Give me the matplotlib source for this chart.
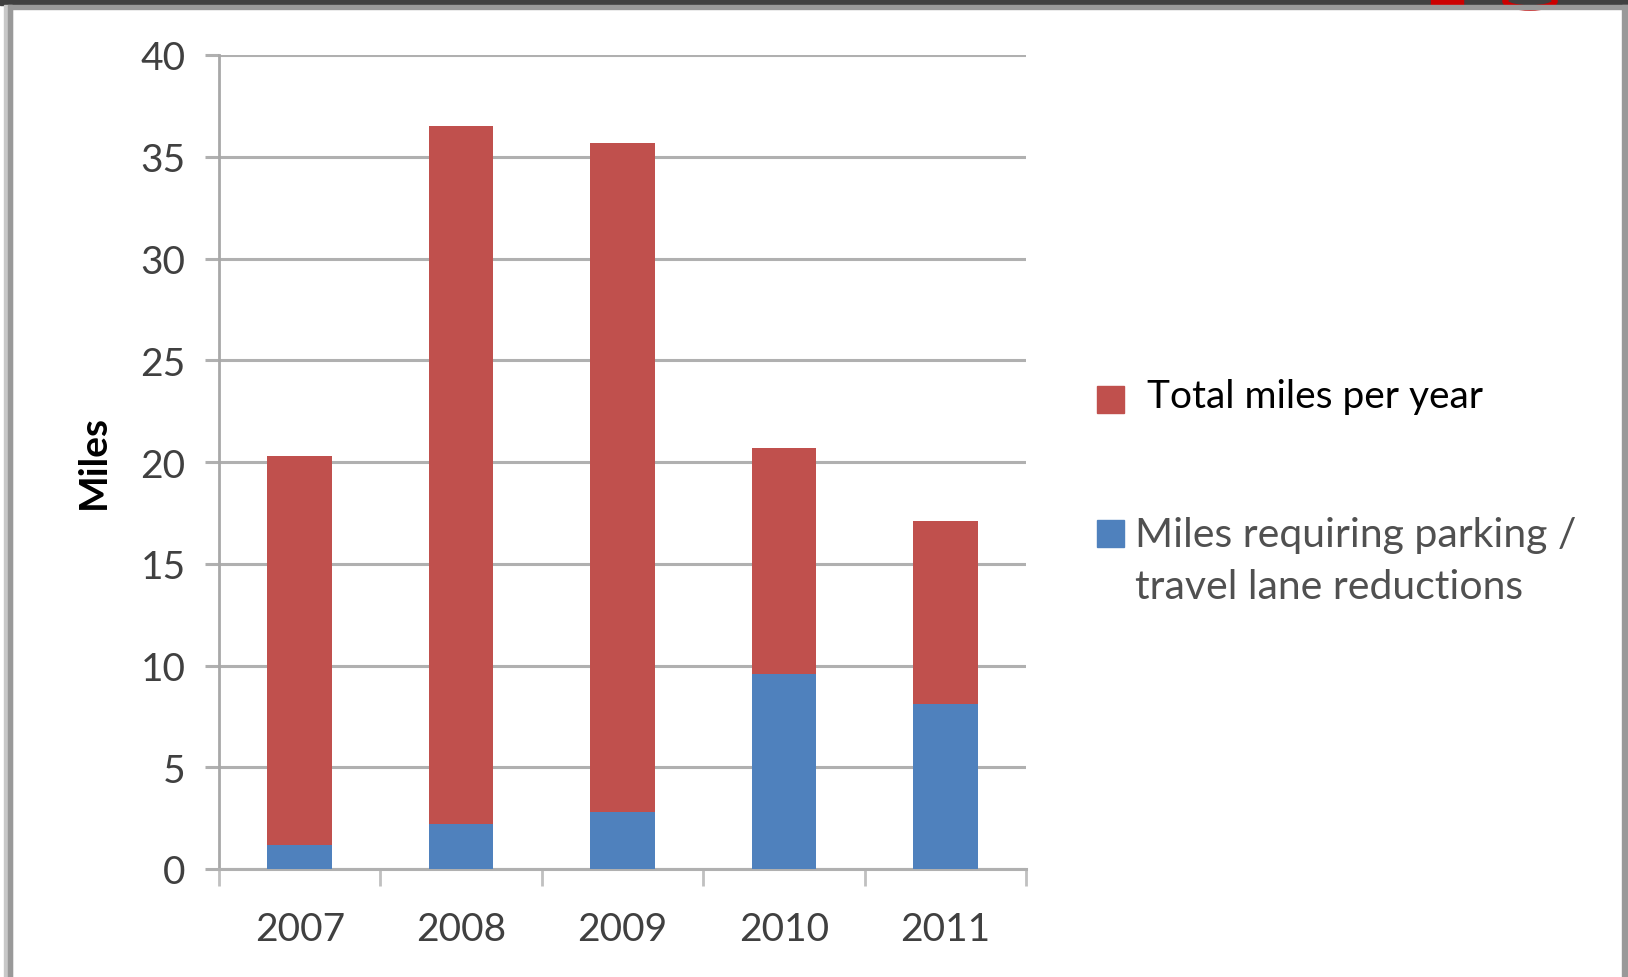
import matplotlib
matplotlib.use("Agg")
from matplotlib import pyplot as plt
from matplotlib.patches import Rectangle, Ellipse

# data
years = ["2007", "2008", "2009", "2010", "2011"]
total_miles = [20.3, 36.5, 35.7, 20.7, 17.1]
reduction_miles = [1.2, 2.2, 2.8, 9.6, 8.1]

red = "#C0504D"
blue = "#4F81BD"
grid = "#b0b0b0"

plt.rcParams['font.family'] = ['Lato', 'DejaVu Sans']

W, H = 1628, 978
fig = plt.figure(figsize=(W / 100, H / 100), dpi=100)

# slide frame around the chart
fig.patches.append(Rectangle((0, 1 - 6 / H), 1, 6 / H, transform=fig.transFigure,
                             color="#404040", zorder=0))
fig.patches.append(Rectangle((1431 / W, 1 - 6 / H), 32 / W, 6 / H, transform=fig.transFigure,
                             color="#cc0000", zorder=1))
fig.patches.append(Ellipse((1530 / W, 1 - 2 / H), 50 / W, 14 / H, transform=fig.transFigure,
                           fill=False, edgecolor="#cc0000", linewidth=4, zorder=1))
fig.patches.append(Rectangle((4 / W, 0), 8 / W, 1 - 6 / H, transform=fig.transFigure,
                             color="#c8c8c8", zorder=0))
fig.patches.append(Rectangle((8 / W, 0), 4 / W, 1 - 10 / H, transform=fig.transFigure,
                             color="#999999", zorder=0))
fig.patches.append(Rectangle((8 / W, 1 - 10 / H), 1 - 8 / W, 4 / H, transform=fig.transFigure,
                             color="#999999", zorder=2))
fig.patches.append(Rectangle((1 - 6 / W, 0), 6 / W, 1 - 6 / H, transform=fig.transFigure,
                             color="#999999", zorder=0))

ax = fig.add_axes([219 / W, (H - 870) / H, (1026 - 219) / W, (870 - 56) / H])

x = range(len(years))
ax.bar(x, total_miles, width=0.4, color=red, zorder=2)
ax.bar(x, reduction_miles, width=0.4, color=blue, zorder=3)

ax.set_xlim(-0.5, 4.5)
ax.set_ylim(0, 40)
ax.set_yticks(range(0, 41, 5))
ax.yaxis.grid(True, color=grid, linewidth=2.2, zorder=1)
ax.set_axisbelow(True)

for s in ["top", "right"]:
    ax.spines[s].set_visible(False)
ax.spines["left"].set_color("#a8a8a8")
ax.spines["left"].set_linewidth(2)
ax.spines["bottom"].set_color(grid)
ax.spines["bottom"].set_linewidth(2.2)

ax.tick_params(axis="y", length=10, width=2.2, color=grid, labelsize=28,
               labelcolor="#404040", pad=14)
ax.set_xticks([i - 0.5 for i in range(6)], minor=False)
ax.set_xticklabels([])
ax.set_xticks(list(x), minor=True)
ax.set_xticklabels(years, minor=True)
ax.tick_params(axis="x", which="major", length=12, width=2, color="#c0c0c0", direction="out")
ax.tick_params(axis="x", which="minor", length=0, labelsize=28, labelcolor="#404040", pad=30)

fig.text(93 / W, 1 - 462 / H, "Miles", rotation=90, fontsize=28, fontweight="bold",
         ha="center", va="center", color="black")

# legend
fig.patches.append(Rectangle((1097 / W, 1 - 414 / H), 27 / W, 27 / H, transform=fig.transFigure,
                             color=red, zorder=2))
fig.text(1147 / W, 1 - 397 / H, "Total miles per year", fontsize=28, color="black",
         ha="left", va="center")
fig.patches.append(Rectangle((1097 / W, 1 - 548 / H), 27 / W, 27 / H, transform=fig.transFigure,
                             color=blue, zorder=2))
fig.text(1135 / W, 1 - 535 / H, "Miles requiring parking /", fontsize=29.5, color="#505050",
         ha="left", va="center")
fig.text(1135 / W, 1 - 588 / H, "travel lane reductions", fontsize=29.5, color="#505050",
         ha="left", va="center")

plt.savefig("out.png", dpi=100)
